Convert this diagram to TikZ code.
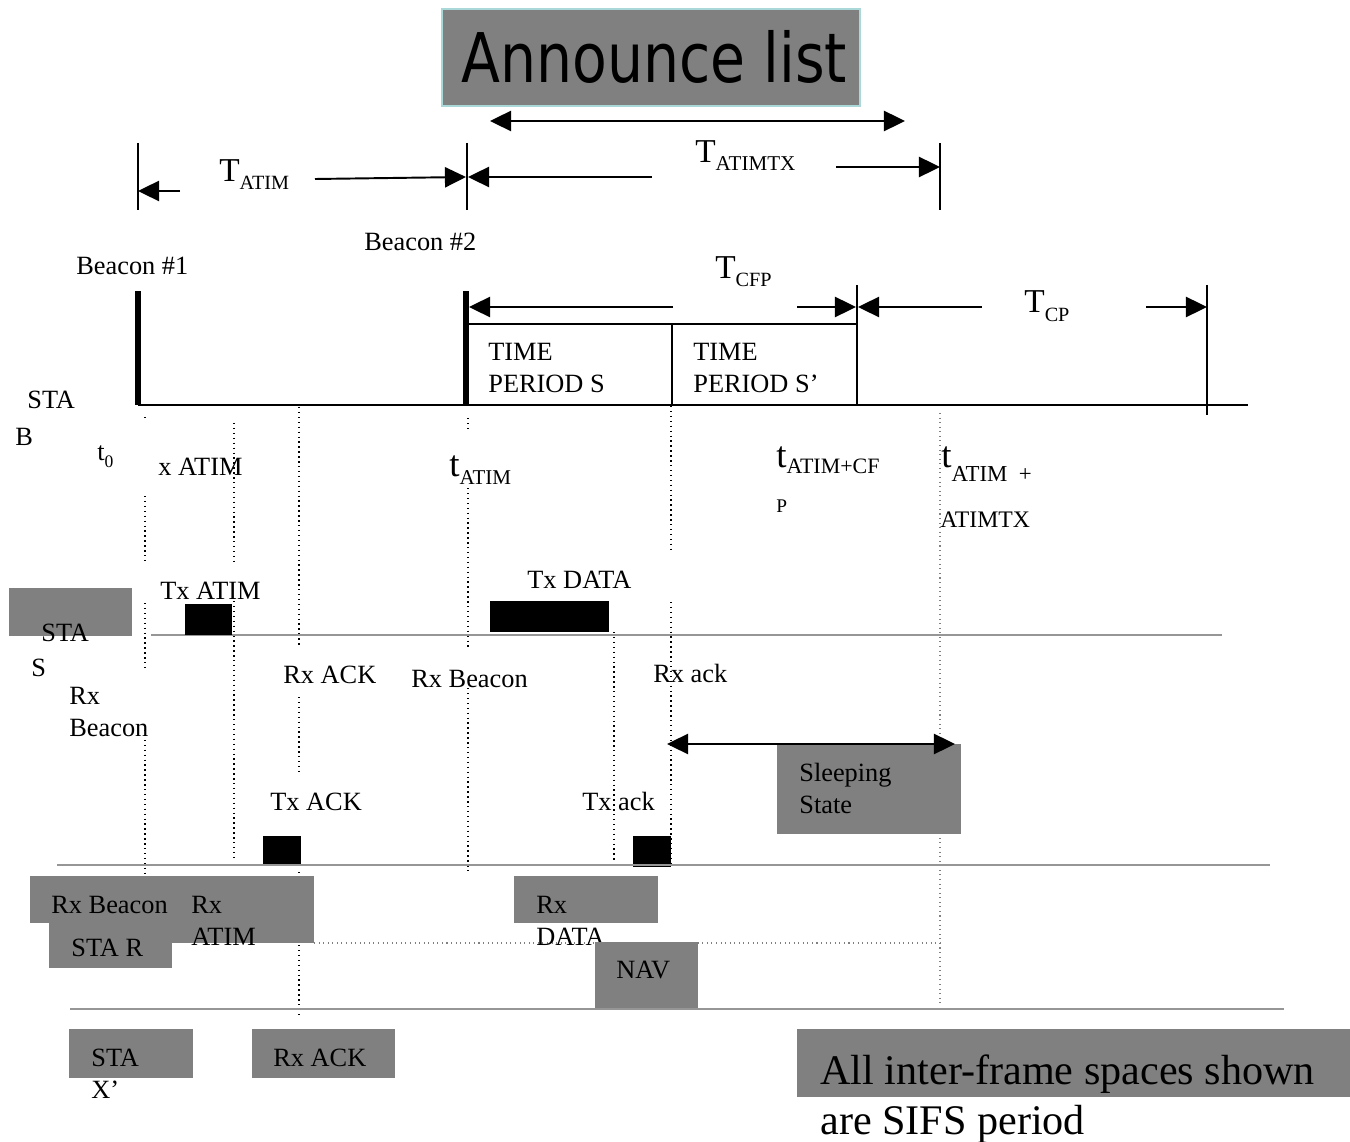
\documentclass[tikz,border=0pt]{standalone}
\usepackage{fontspec}
\setmainfont{Liberation Serif}
\newfontfamily\annfont[FakeStretch=0.83]{DejaVu Sans}
\usetikzlibrary{arrows.meta}

\definecolor{boxgray}{RGB}{128,128,128}
\definecolor{lanegray}{RGB}{150,150,150}
\definecolor{edgecyan}{RGB}{170,215,215}

% sizes in pt
\newcommand{\fs}[1]{\fontsize{#1}{#1}\selectfont}
% big letter with a lowered subscript: {letter size}{letter}{sub size}{sub}{drop}
\newcommand{\bigsub}[5]{{\fs{#1}#2}\raisebox{-#5}{\fs{#3}#4}}

\begin{document}
\begin{tikzpicture}[x=0.02cm,y=-0.02cm,
  lbl/.style={inner sep=0pt, anchor=base west, font=\fs{15}},
  tip/.tip={Triangle[length=12pt,width=11.5pt]},
  dimarrow/.style={line width=1.1pt, -tip},
  twoway/.style={line width=1.1pt, tip-tip},
  dimtick/.style={line width=0.8pt},
  dots/.style={dotted, line width=0.8pt},
  gdots/.style={dotted, line width=0.6pt, draw=gray},
  lane/.style={draw=lanegray, line width=1.2pt}]
\useasboundingbox (0,0) rectangle (1350,1142);

% ---------- announce list ----------
\draw[fill=boxgray, draw=edgecyan, line width=0.6pt] (442,9) rectangle (860,106);
\node[inner sep=0pt, anchor=base west, font=\annfont\fs{39}] (ann) at (461,83) {Announce list};
\coordinate (annL) at (490,121);
\coordinate (annR) at (905,121);
\draw[twoway] (annL) -- (annR);

% ---------- T_ATIM / T_ATIMTX ----------
\draw[dimtick] (138,143) -- (138,210);
\draw[dimtick] (467,143) -- (467,210);
\draw[dimtick] (940,143) -- (940,210);
\node[lbl] (tatim) at (219,182) {\bigsub{19}{T}{11.5}{ATIM}{4.5pt}};
\draw[dimarrow] (180,191) -- (138,191);
\draw[dimarrow] (315,179) -- (466,177);
\node[lbl] (tatimtx) at (695,163) {\bigsub{19}{T}{12}{ATIMTX}{4pt}};
\draw[dimarrow] (652,177) -- (468,177);
\draw[dimarrow] (836,167) -- (940,167);

% ---------- beacons and STA B line ----------
\node[lbl] (b1) at (76,275) {Beacon \#1};
\node[lbl] (b2) at (364,251) {Beacon \#2};
\fill (135,291) rectangle (141,405);
\fill (463,291) rectangle (469,405);
\draw[line width=1.4pt] (138,405) -- (1248,405);

% CFP periods
\draw[line width=1.1pt] (468,324) -- (857,324);
\draw[line width=1.1pt] (672,324) -- (672,405);
\draw[dimtick] (857,285) -- (857,405);
\draw[dimtick] (1207,285) -- (1207,415);
\node[lbl] (ps1) at (488,361) {TIME};
\node[lbl] (ps2) at (488,393) {PERIOD S};
\node[lbl] (pt1) at (693,361) {TIME};
\node[lbl] (pt2) at (693,393) {PERIOD S’};
\node[lbl] (tcfp) at (715,279) {\bigsub{19}{T}{11.5}{CFP}{4.5pt}};
\draw[dimarrow] (673,307) -- (469,307);
\draw[dimarrow] (797,307) -- (856,307);
\node[lbl] (tcp) at (1024,313) {\bigsub{19}{T}{11.5}{CP}{5pt}};
\draw[dimarrow] (982,307) -- (858,307);
\draw[dimarrow] (1146,307) -- (1207,307);

% ---------- time marks ----------
\node[lbl] (stab1) at (27,409) {STA};
\node[lbl] (stab2) at (15,445) {B};
\node[lbl] (t0) at (97,460) {\bigsub{15}{t}{10}{0}{4pt}};
\node[lbl] (xatim) at (158,476) {x ATIM};
\node[lbl] (tat) at (449,477) {\bigsub{21}{t}{12}{ATIM}{4pt}};
\node[lbl] (tacf) at (776,467) {\bigsub{21}{t}{12.5}{ATIM+CF}{3.5pt}};
\node[lbl, font=\fs{11}] (tacf2) at (776,512) {P};
\node[lbl] (tatx) at (941,467) {\bigsub{21}{t}{13}{ATIM\ \ +}{8pt}};
\node[lbl, font=\fs{13.5}] (tatx2) at (940,527) {ATIMTX};

% ---------- dotted time guides ----------
\foreach \a/\b in {417/421, 496/563, 603/667, 730/875} \draw[dots] (145,\a) -- (145,\b);
\foreach \a/\b in {423/562, 601/857} \draw[dots] (234,\a) -- (234,\b);
\foreach \a/\b in {407/647, 697/775, 872/876, 945/1017} \draw[dots] (299,\a) -- (299,\b);
\foreach \a/\b in {418/432, 488/650, 688/872} \draw[dots] (468,\a) -- (468,\b);
\draw[dots] (614,632) -- (614,860);
\foreach \a/\b in {406/550, 602/865} \draw[dots] (671,\a) -- (671,\b);
\draw[gdots] (940,413) -- (940,1003);
\draw[gdots] (314,943) -- (940,943);

% ---------- STA S ----------
\fill[boxgray] (9,588) rectangle (132,636);
\node[lbl] (stas1) at (41,641) {STA};
\node[lbl] (stas2) at (31,676) {S};
\draw[lane] (151,635) -- (1222,635);
\fill (185,604) rectangle (232,635);
\node[lbl] (txatim) at (160,599) {Tx ATIM};
\fill (490,601) rectangle (609,632);
\node[lbl] (txdata) at (527,588) {Tx DATA};
\node[lbl] (rxack) at (283,683) {Rx ACK};
\node[lbl] (rxbeac) at (411,687) {Rx Beacon};
\node[lbl] (rxack2) at (653,682) {Rx ack};
\node[lbl] (rxb1) at (69,704) {Rx};
\node[lbl] (rxb2) at (69,736) {Beacon};

% sleeping state
\fill[boxgray] (777,744) rectangle (961,834);
\node[lbl] (sl1) at (799,781) {Sleeping};
\node[lbl] (sl2) at (799,813) {State};
\coordinate (slL) at (667,744);
\coordinate (slR) at (955,744);
\draw[twoway] (slL) -- (slR);

% ---------- STA R ----------
\node[lbl] (txack) at (270,810) {Tx ACK};
\node[lbl] (txack2) at (582,810) {Tx ack};
\fill (263,836) rectangle (301,866);
\fill (633,836) rectangle (671,867);
\draw[lane] (57,865) -- (1270,865);
\fill[boxgray] (30,876) rectangle (195,923);
\fill[boxgray] (49,921) rectangle (172,968);
\fill[boxgray] (170,876) rectangle (314,943);
\node[lbl] (rr1) at (51,913) {Rx Beacon};
\node[lbl] (rr2) at (191,913) {Rx};
\node[lbl] (rr3) at (191,945) {ATIM};
\node[lbl] (star) at (71,956) {STA R};
\fill[boxgray] (514,876) rectangle (658,923);
\node[lbl] (rd1) at (536,913) {Rx};
\node[lbl] (rd2) at (536,945) {DATA};
\fill[boxgray] (595,942) rectangle (698,1009);
\node[lbl] (nav) at (616,978) {NAV};

% ---------- STA X' ----------
\draw[lane] (70,1009) -- (1284,1009);
\fill[boxgray] (69,1029) rectangle (193,1078);
\node[lbl] (stax1) at (91,1066) {STA};
\node[lbl] (stax2) at (91,1098) {X’};
\fill[boxgray] (252,1029) rectangle (395,1078);
\node[lbl] (rxackx) at (273,1066) {Rx ACK};

% ---------- note ----------
\fill[boxgray] (797,1029) rectangle (1350,1097);
\node[lbl, font=\fs{24}] (note1) at (820,1084) {All inter-frame spaces shown};
\node[lbl, font=\fs{24}] (note2) at (820,1134) {are SIFS period};
\end{tikzpicture}
\end{document}
